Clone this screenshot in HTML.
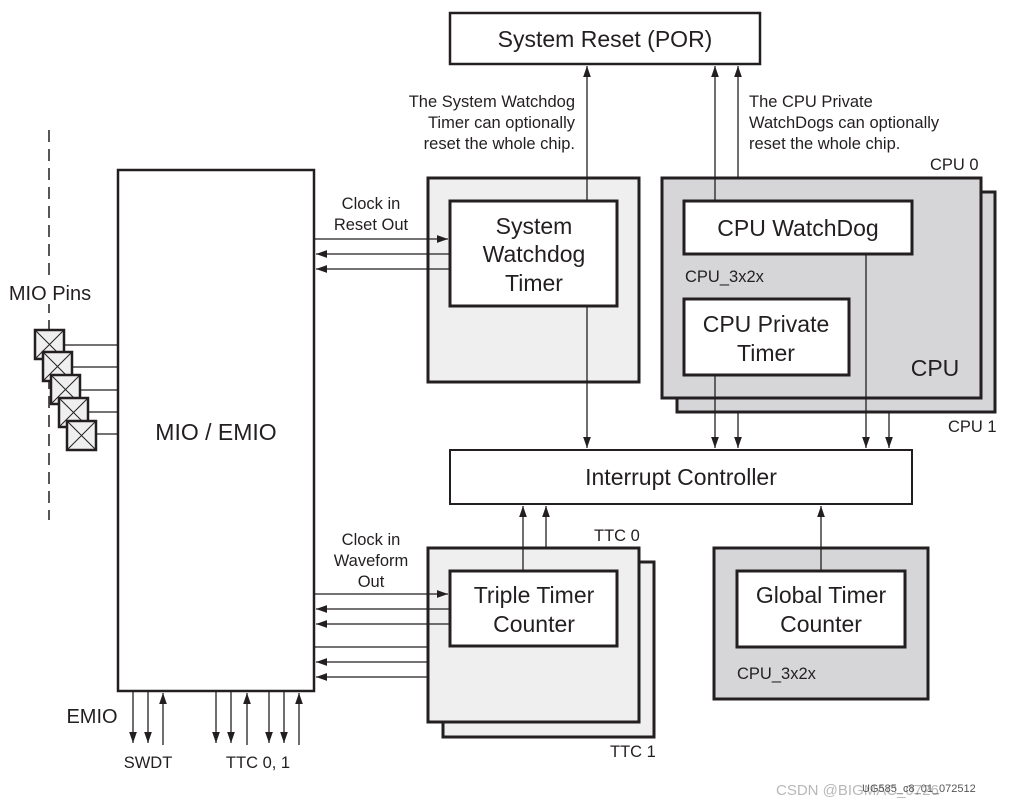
<!DOCTYPE html>
<html><head><meta charset="utf-8"><style>
html,body{margin:0;padding:0;background:#fff;}
svg{display:block;font-family:"Liberation Sans",Arial,sans-serif;fill:#231f20;}
</style></head><body>
<svg width="1017" height="809" viewBox="0 0 1017 809" xmlns="http://www.w3.org/2000/svg">
<defs>
<marker id="a" viewBox="0 0 10 10" refX="10" refY="5" markerWidth="11" markerHeight="11" markerUnits="userSpaceOnUse" orient="auto">
<path d="M0,1.5 L10,5 L0,8.5 z" fill="#231f20"/></marker>
</defs>
<g stroke="#231f20" fill="none">
<line x1="49" y1="130" x2="49" y2="520" stroke-width="1.5" stroke-dasharray="12,7"/>
<rect x="450" y="13" width="310" height="51" fill="#fff" stroke-width="2.5"/>
<rect x="118" y="170" width="196" height="521" fill="#fff" stroke-width="2.5"/>
<rect x="428" y="178" width="211" height="204" fill="#efefef" stroke-width="3"/>
<rect x="450" y="201" width="167" height="105" fill="#fff" stroke-width="3"/>
<rect x="677" y="192" width="318" height="220" fill="#d6d6d8" stroke-width="3"/>
<rect x="662" y="178" width="319" height="220" fill="#d6d6d8" stroke-width="3"/>
<rect x="684" y="201" width="228" height="53" fill="#fff" stroke-width="3"/>
<rect x="684" y="299" width="165" height="76" fill="#fff" stroke-width="3"/>
<rect x="450" y="450" width="462" height="54" fill="#fff" stroke-width="2"/>
<rect x="443" y="562" width="211" height="175" fill="#efefef" stroke-width="3"/>
<rect x="428" y="548" width="211" height="174" fill="#efefef" stroke-width="3"/>
<rect x="450" y="571" width="167" height="75" fill="#fff" stroke-width="3"/>
<rect x="714" y="548" width="214" height="151" fill="#d6d6d8" stroke-width="3"/>
<rect x="737" y="571" width="168" height="76" fill="#fff" stroke-width="3"/>
<g stroke-width="1.3">
<line x1="587" y1="201" x2="587" y2="66" marker-end="url(#a)"/>
<line x1="587" y1="306" x2="587" y2="448" marker-end="url(#a)"/>
<line x1="715" y1="201" x2="715" y2="66" marker-end="url(#a)"/>
<line x1="738" y1="178" x2="738" y2="66" marker-end="url(#a)"/>
<line x1="715" y1="375" x2="715" y2="448" marker-end="url(#a)"/>
<line x1="738" y1="412" x2="738" y2="448" marker-end="url(#a)"/>
<line x1="866" y1="254" x2="866" y2="448" marker-end="url(#a)"/>
<line x1="889" y1="412" x2="889" y2="448" marker-end="url(#a)"/>
<line x1="523" y1="571" x2="523" y2="506" marker-end="url(#a)"/>
<line x1="546" y1="548" x2="546" y2="506" marker-end="url(#a)"/>
<line x1="821" y1="571" x2="821" y2="506" marker-end="url(#a)"/>
<line x1="315" y1="239" x2="448" y2="239" marker-end="url(#a)"/>
<line x1="450" y1="254" x2="316" y2="254" marker-end="url(#a)"/>
<line x1="450" y1="269" x2="316" y2="269" marker-end="url(#a)"/>
<line x1="315" y1="594" x2="448" y2="594" marker-end="url(#a)"/>
<line x1="450" y1="609" x2="316" y2="609" marker-end="url(#a)"/>
<line x1="450" y1="624" x2="316" y2="624" marker-end="url(#a)"/>
<line x1="428" y1="647" x2="315" y2="647"/>
<line x1="428" y1="662" x2="316" y2="662" marker-end="url(#a)"/>
<line x1="428" y1="677" x2="316" y2="677" marker-end="url(#a)"/>
<line x1="133" y1="692" x2="133" y2="743" marker-end="url(#a)"/>
<line x1="148" y1="692" x2="148" y2="743" marker-end="url(#a)"/>
<line x1="163" y1="745" x2="163" y2="693" marker-end="url(#a)"/>
<line x1="216" y1="692" x2="216" y2="743" marker-end="url(#a)"/>
<line x1="231" y1="692" x2="231" y2="743" marker-end="url(#a)"/>
<line x1="247" y1="745" x2="247" y2="693" marker-end="url(#a)"/>
<line x1="269" y1="692" x2="269" y2="743" marker-end="url(#a)"/>
<line x1="284" y1="692" x2="284" y2="743" marker-end="url(#a)"/>
<line x1="299" y1="745" x2="299" y2="693" marker-end="url(#a)"/>
<line x1="65" y1="345" x2="118" y2="345"/>
<line x1="73" y1="367" x2="118" y2="367"/>
<line x1="81" y1="390" x2="118" y2="390"/>
<line x1="89" y1="412" x2="118" y2="412"/>
<line x1="97" y1="434" x2="118" y2="434"/>
</g>
<g stroke-width="2.5" fill="#efefef">
<g transform="translate(35,330)"><rect width="29" height="29"/><path d="M0,0L29,29M29,0L0,29" stroke-width="1"/></g>
<g transform="translate(43,352)"><rect width="29" height="29"/><path d="M0,0L29,29M29,0L0,29" stroke-width="1"/></g>
<g transform="translate(51,375)"><rect width="29" height="29"/><path d="M0,0L29,29M29,0L0,29" stroke-width="1"/></g>
<g transform="translate(59,398)"><rect width="29" height="29"/><path d="M0,0L29,29M29,0L0,29" stroke-width="1"/></g>
<g transform="translate(67,421)"><rect width="29" height="29"/><path d="M0,0L29,29M29,0L0,29" stroke-width="1"/></g>
</g>
</g>
<rect x="4" y="280" width="90" height="24" fill="#fff"/>
<g font-size="23" text-anchor="middle">
<text x="605" y="47">System Reset (POR)</text>
<text x="534" y="234">System</text>
<text x="534" y="262">Watchdog</text>
<text x="534" y="291">Timer</text>
<text x="798" y="236">CPU WatchDog</text>
<text x="766" y="332">CPU Private</text>
<text x="766" y="361">Timer</text>
<text x="935" y="376">CPU</text>
<text x="681" y="485">Interrupt Controller</text>
<text x="534" y="603">Triple Timer</text>
<text x="534" y="632">Counter</text>
<text x="821" y="603">Global Timer</text>
<text x="821" y="632">Counter</text>
<text x="216" y="440">MIO / EMIO</text>
<text x="50" y="300" font-size="20">MIO Pins</text>
<text x="92" y="723" font-size="20">EMIO</text>
</g>
<g font-size="16.5">
<text x="575" y="107" text-anchor="end">The System Watchdog</text>
<text x="575" y="128" text-anchor="end">Timer can optionally</text>
<text x="575" y="149" text-anchor="end">reset the whole chip.</text>
<text x="749" y="107">The CPU Private</text>
<text x="749" y="128">WatchDogs can optionally</text>
<text x="749" y="149">reset the whole chip.</text>
<text x="371" y="209" text-anchor="middle">Clock in</text>
<text x="371" y="230" text-anchor="middle">Reset Out</text>
<text x="371" y="545" text-anchor="middle">Clock in</text>
<text x="371" y="566" text-anchor="middle">Waveform</text>
<text x="371" y="587" text-anchor="middle">Out</text>
<text x="930" y="170">CPU 0</text>
<text x="948" y="432">CPU 1</text>
<text x="685" y="282">CPU_3x2x</text>
<text x="737" y="679">CPU_3x2x</text>
<text x="594" y="541">TTC 0</text>
<text x="610" y="757">TTC 1</text>
<text x="148" y="768" text-anchor="middle">SWDT</text>
<text x="258" y="768" text-anchor="middle">TTC 0, 1</text>
</g>
<text x="776" y="795" font-size="15" fill="#b8b8b8">CSDN @BIGMAC_0726</text>
<text x="862" y="792" font-size="11" fill="#555">UG585_c8_01_072512</text>
</svg>
</body></html>
